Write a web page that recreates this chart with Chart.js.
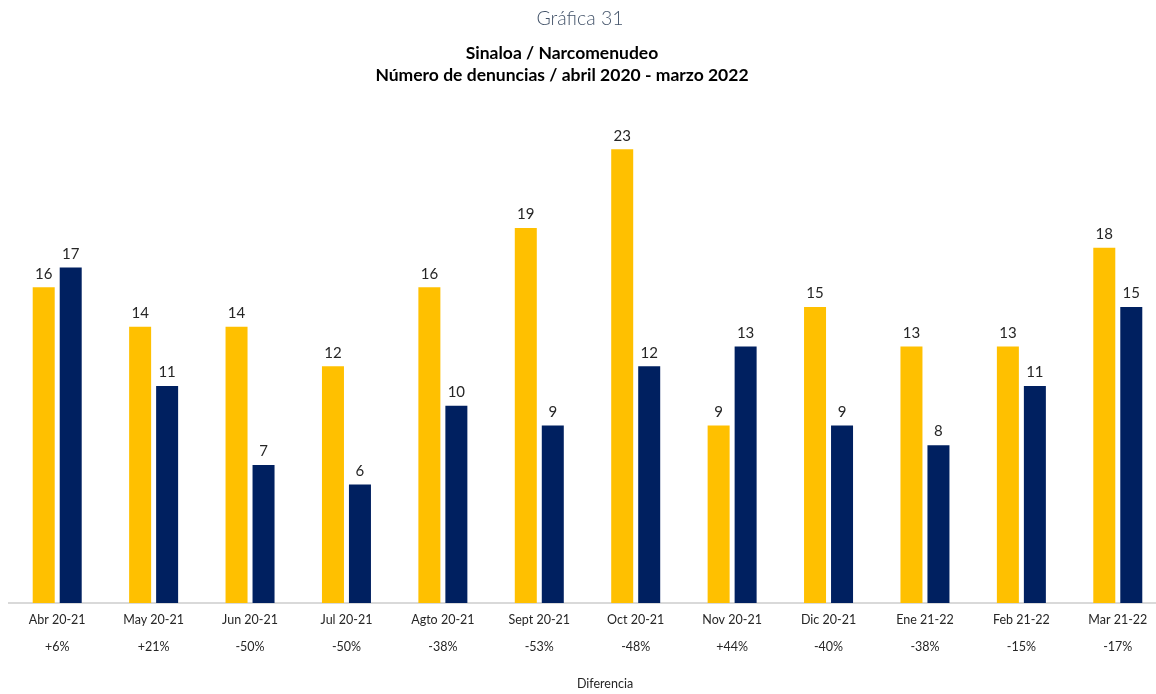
<!DOCTYPE html>
<html>
<head>
<meta charset="utf-8">
<script src="https://cdn.jsdelivr.net/npm/chart.js@4.4.0/dist/chart.umd.min.js"></script>
<style>
  html, body { margin: 0; padding: 0; background: #fff; overflow: hidden; width: 1156px; height: 694px; }
  body { position: relative; font-family: Lato, "Open Sans", sans-serif; }
  #grafica { position: absolute; top: 6px; left: 0; width: 1156px; text-align: center; margin-left: 2px;
             font-size: 19.5px; color: #44546A; font-weight: 300; }
  .titulo { position: absolute; left: 0; width: 1124px; text-align: center; font-weight: bold; font-size: 17.5px; color: #000; }
  #t1 { top: 42px; }
  #t2 { top: 64px; }
  #dif { position: absolute; top: 676px; left: 0; width: 1210px; text-align: center; font-size: 12.5px; color: #262626; }
  #wrap { position: absolute; left: 0; top: 0; }
</style>
</head>
<body>
<div id="wrap"><canvas id="grafico" width="1166" height="694"></canvas></div>
<div id="grafica">Gráfica 31</div>
<div class="titulo" id="t1">Sinaloa / Narcomenudeo</div>
<div class="titulo" id="t2">Número de denuncias / abril 2020 - marzo 2022</div>
<div id="dif">Diferencia</div>
<script>
// datos
const meses = ["Abr 20-21", "May 20-21", "Jun 20-21", "Jul 20-21", "Agto 20-21", "Sept 20-21",
               "Oct 20-21", "Nov 20-21", "Dic 20-21", "Ene 21-22", "Feb 21-22", "Mar 21-22"];
const periodo1 = [16, 14, 14, 12, 16, 19, 23, 9, 15, 13, 13, 18];
const periodo2 = [17, 11, 7, 6, 10, 9, 12, 13, 9, 8, 11, 15];
const diferencia = ["+6%", "+21%", "-50%", "-50%", "-38%", "-53%", "-48%", "+44%", "-40%", "-38%", "-15%", "-17%"];

const etiquetas = meses.map((m, i) => [m, diferencia[i]]);

// escribe el valor arriba de cada barra
const valoresArriba = {
  id: "valoresArriba",
  afterDatasetsDraw(chart) {
    const ctx = chart.ctx;
    ctx.save();
    ctx.font = "15px Lato, 'Open Sans', sans-serif";
    ctx.fillStyle = "#262626";
    ctx.textAlign = "center";
    ctx.textBaseline = "bottom";
    chart.data.datasets.forEach((ds, i) => {
      chart.getDatasetMeta(i).data.forEach((bar, j) => {
        ctx.fillText(ds.data[j], bar.x, bar.y - 6);
      });
    });
    ctx.restore();
  }
};

const ctx = document.getElementById("grafico").getContext("2d");
new Chart(ctx, {
  type: "bar",
  data: {
    labels: etiquetas,
    datasets: [{
      label: "abril 2020 - marzo 2021",
      data: periodo1,
      backgroundColor: "#FFC000",
      barPercentage: 0.815,
      categoryPercentage: 0.56
    }, {
      label: "abril 2021 - marzo 2022",
      data: periodo2,
      backgroundColor: "#002060",
      barPercentage: 0.815,
      categoryPercentage: 0.56
    }]
  },
  options: {
    responsive: false,
    animation: false,
    layout: { padding: { left: 9, right: 0, top: 90, bottom: 0 } },
    plugins: {
      legend: { display: false },
      tooltip: { enabled: false }
    },
    scales: {
      y: {
        display: false,
        min: 0,
        max: 26
      },
      x: {
        grid: { display: false, drawTicks: false },
        border: { display: true, color: "#D9D9D9", width: 2 },
        ticks: {
          color: "#262626",
          padding: 3,
          maxRotation: 0,
          autoSkip: false,
          font: { family: "Lato, 'Open Sans', sans-serif", size: 12.5, lineHeight: 2.2 }
        },
        afterFit: s => { s.height = 91; }
      }
    }
  },
  plugins: [valoresArriba]
});
</script>
</body>
</html>
